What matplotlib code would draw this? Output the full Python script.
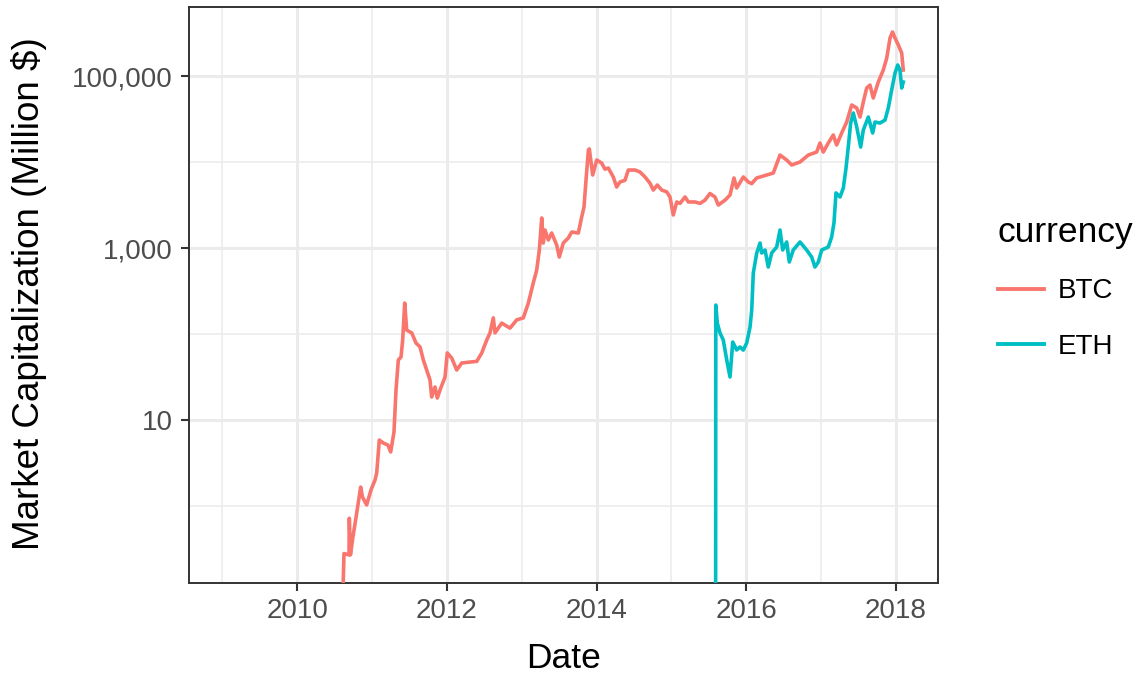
import matplotlib
matplotlib.use("Agg")
import matplotlib.pyplot as plt
from matplotlib.ticker import FixedLocator, FixedFormatter, NullFormatter

# ---------------- data (decimal year, market cap in million $) ----------------
btc_year = [2010.600, 2010.624, 2010.691, 2010.695, 2010.710, 2010.744, 2010.794, 2010.847,
            2010.871, 2010.927, 2010.985, 2011.038, 2011.061, 2011.096, 2011.149, 2011.212,
            2011.248, 2011.292, 2011.319, 2011.350, 2011.386, 2011.408, 2011.435, 2011.462,
            2011.529, 2011.586, 2011.640, 2011.684, 2011.729, 2011.773, 2011.796, 2011.840,
            2011.871, 2011.907, 2011.974, 2012.004, 2012.063, 2012.130, 2012.197, 2012.308,
            2012.397, 2012.464, 2012.531, 2012.575, 2012.619, 2012.642, 2012.731, 2012.842,
            2012.932, 2013.020, 2013.087, 2013.153, 2013.199, 2013.234, 2013.266, 2013.287,
            2013.310, 2013.354, 2013.399, 2013.466, 2013.501, 2013.554, 2013.621, 2013.667,
            2013.755, 2013.800, 2013.831, 2013.858, 2013.890, 2013.902, 2013.947, 2014.001,
            2014.067, 2014.111, 2014.156, 2014.222, 2014.267, 2014.311, 2014.378, 2014.423,
            2014.512, 2014.579, 2014.646, 2014.713, 2014.757, 2014.810, 2014.869, 2014.936,
            2014.980, 2015.024, 2015.070, 2015.114, 2015.181, 2015.225, 2015.314, 2015.381,
            2015.447, 2015.514, 2015.581, 2015.625, 2015.715, 2015.782, 2015.835, 2015.871,
            2015.960, 2016.027, 2016.071, 2016.138, 2016.272, 2016.360, 2016.450, 2016.539,
            2016.606, 2016.717, 2016.828, 2016.940, 2016.984, 2017.028, 2017.095, 2017.162,
            2017.207, 2017.274, 2017.341, 2017.408, 2017.475, 2017.519, 2017.563, 2017.608,
            2017.652, 2017.696, 2017.763, 2017.830, 2017.876, 2017.920, 2017.953, 2017.987,
            2018.031, 2018.076, 2018.097]
btc_cap = [0.05, 0.28, 0.27, 0.72, 0.27, 0.44, 0.83, 1.66,
           1.27, 1.03, 1.54, 2.0, 2.42, 5.85, 5.4, 5.1,
           4.25, 7.25, 22.3, 49.9, 54, 85, 229, 111,
           103, 78.6, 70.6, 49.9, 38.1, 29.2, 18.5, 24.2,
           18.0, 22.3, 31.6, 60.2, 52.6, 38.1, 46, 47.2,
           48, 60, 85, 103, 154, 103, 134, 117,
           146, 154, 229, 392, 555, 948, 2234, 1143,
           1619, 1239, 1494, 1083, 785, 1143, 1306, 1535,
           1494, 2293, 2997, 6180, 13800, 14200, 7060, 10550,
           9730, 8250, 8510, 6700, 5120, 5850, 6130, 8070,
           8070, 7650, 6700, 5660, 4720, 5400, 4720, 4500,
           3920, 2420, 3430, 3300, 3920, 3430, 3430, 3300,
           3600, 4300, 3920, 3160, 3600, 4130, 6520, 4990,
           6700, 5850, 5600, 6520, 7060, 7440, 12050, 10550,
           9230, 10000, 12050, 13060, 16630, 13060, 16630, 20610,
           15780, 21740, 29160, 46000, 42460, 33340, 49890, 72480,
           78540, 55470, 85130, 117400, 161900, 276700, 325000, 276700,
           229300, 184900, 117400]

eth_year = [2015.589, 2015.592, 2015.612, 2015.648, 2015.692, 2015.738, 2015.782, 2015.818,
            2015.871, 2015.915, 2015.959, 2016.005, 2016.049, 2016.072, 2016.093, 2016.139,
            2016.183, 2016.205, 2016.250, 2016.293, 2016.339, 2016.406, 2016.450, 2016.486,
            2016.539, 2016.574, 2016.627, 2016.717, 2016.806, 2016.873, 2016.917, 2016.962,
            2017.007, 2017.095, 2017.140, 2017.171, 2017.198, 2017.252, 2017.296, 2017.332,
            2017.362, 2017.394, 2017.429, 2017.475, 2017.528, 2017.563, 2017.630, 2017.688,
            2017.719, 2017.786, 2017.853, 2017.897, 2017.942, 2017.987, 2018.023, 2018.053,
            2018.076, 2018.097]
eth_cap = [0.01, 217, 134, 103, 85, 49.9, 31.6, 80.7,
           65.2, 70.6, 65, 78.6, 120, 190, 512, 875,
           1143, 875, 948, 601, 875, 1028, 1619, 948,
           1175, 687, 948, 1175, 948, 785, 601, 687,
           948, 1028, 1343, 1954, 4370, 3920, 4990, 8510,
           14930, 28380, 37150, 25520, 14930, 23550, 33340, 21740,
           29160, 28380, 30760, 42460, 68710, 108300, 134300, 117400,
           72480, 85130]

currencies = ["BTC", "ETH"]
x_major = [2010, 2012, 2014, 2016, 2018]
x_minor = [2009, 2011, 2013, 2015, 2017]
y_major = [10, 1000, 100000]
y_major_labels = ["10", "1,000", "100,000"]
y_minor = [1, 100, 10000]

# ---------------- styling ----------------
plt.rcParams["font.family"] = ["Liberation Sans", "DejaVu Sans"]
colors = {"BTC": "#F8766D", "ETH": "#00BFC4"}
grid_col = "#EBEBEB"
dark = "#333333"
tick_txt = "#4D4D4D"

W, H = 1143, 673
fig = plt.figure(figsize=(W / 100, H / 100), dpi=100)
L, R, T, B = 189.3, 937.7, 6.7, 583.3
ax = fig.add_axes([L / W, 1 - B / H, (R - L) / W, (B - T) / H])

ax.plot(btc_year, btc_cap, color=colors["BTC"], lw=2.6, label=currencies[0],
        solid_joinstyle="round", zorder=3)
ax.plot(eth_year, eth_cap, color=colors["ETH"], lw=2.6, label=currencies[1],
        solid_joinstyle="round", zorder=3)

ax.set_yscale("log")
ax.set_xlim(2008.557, 2018.557)
ax.set_ylim(10 ** -0.899, 10 ** 5.806)

ax.xaxis.set_major_locator(FixedLocator(x_major))
ax.xaxis.set_minor_locator(FixedLocator(x_minor))
ax.set_xticklabels([str(v) for v in x_major])
ax.yaxis.set_major_locator(FixedLocator(y_major))
ax.yaxis.set_major_formatter(FixedFormatter(y_major_labels))
ax.yaxis.set_minor_locator(FixedLocator(y_minor))
ax.yaxis.set_minor_formatter(NullFormatter())
ax.xaxis.set_minor_formatter(NullFormatter())

ax.grid(which="major", color=grid_col, lw=2.2, zorder=0)
ax.grid(which="minor", color=grid_col, lw=1.1, zorder=0)
ax.set_axisbelow(True)

ax.tick_params(which="major", length=5.8, width=1.5, color=dark,
               labelsize=20, labelcolor=tick_txt)
ax.tick_params(axis="y", which="major", pad=6)
ax.tick_params(axis="x", which="major", pad=4.5)
ax.tick_params(which="minor", length=0)

for s in ax.spines.values():
    s.set_color(dark)
    s.set_linewidth(1.4)

ax.set_xlabel("Date", fontsize=25.5, color="black")
ax.set_ylabel("Market Capitalization (Million $)", fontsize=26.5, color="black")
ax.xaxis.set_label_coords(0.5007, -0.101)
ax.yaxis.set_label_coords(-0.19, 0.5026)

leg = ax.legend(title="currency", loc="center left",
                bbox_to_anchor=(984 / W, 1 - 288 / H), bbox_transform=fig.transFigure,
                frameon=False, fontsize=20, title_fontsize=25.5, borderpad=0,
                handlelength=1.66, handletextpad=0.5, labelspacing=1.05,
                alignment="left")
for line in leg.get_lines():
    line.set_linewidth(2.8)

fig.savefig("out.png", dpi=100)
